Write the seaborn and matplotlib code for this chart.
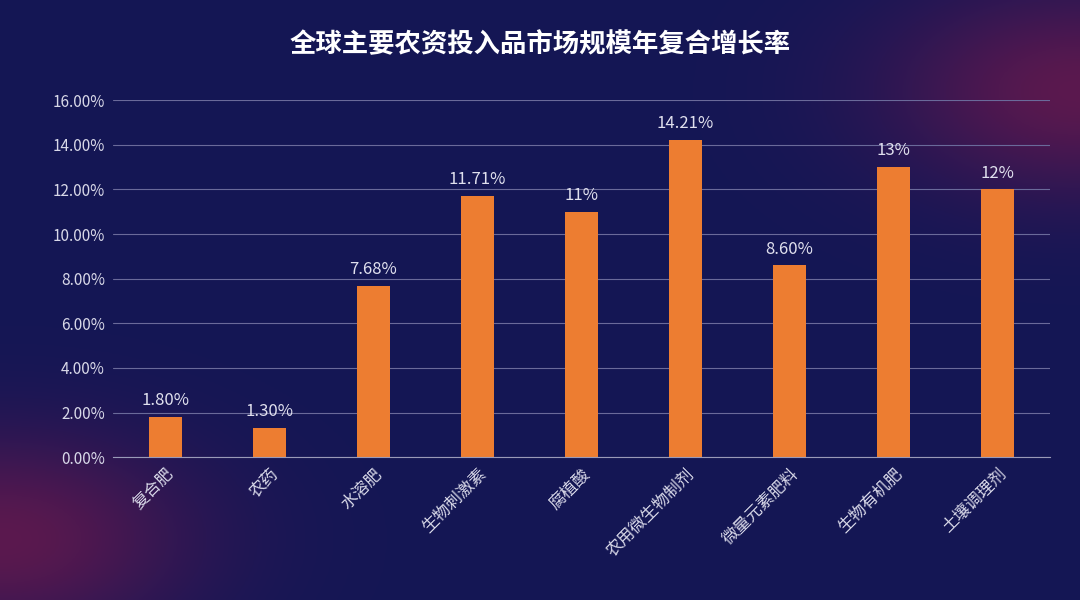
import matplotlib
matplotlib.use("Agg")
import matplotlib.pyplot as plt
import seaborn as sns
import numpy as np
import pandas as pd

categories = ["复合肥", "农药", "水溶肥", "生物刺激素", "腐植酸", "农用微生物制剂", "微量元素肥料", "生物有机肥", "土壤调理剂"]
values = [1.80, 1.30, 7.68, 11.71, 11.0, 14.21, 8.60, 13.0, 12.0]
value_labels = ["1.80%", "1.30%", "7.68%", "11.71%", "11%", "14.21%", "8.60%", "13%", "12%"]
yticks = [0, 2, 4, 6, 8, 10, 12, 14, 16]
title = "全球主要农资投入品市场规模年复合增长率"

sns.set_style("white")
plt.rcParams['font.family'] = ['Noto Sans CJK SC', 'DejaVu Sans']

fig = plt.figure(figsize=(10.8, 6), dpi=100)
bg = fig.add_axes([0, 0, 1, 1], zorder=-10)
grad = np.linspace(0, 1, 256)
X, Y = np.meshgrid(grad, grad)
img = np.zeros((256, 256, 3))
base = np.array([0x14, 0x16, 0x55]) / 255
red = np.array([0x8a, 0x1a, 0x4a]) / 255
w = np.clip(np.maximum(np.exp(-((X - 0.0) ** 2 + (Y - 0.1) ** 2) / 0.03),
                       np.exp(-((X - 1.0) ** 2 + (Y - 0.85) ** 2) / 0.03)), 0, 1) * 0.6
for c in range(3):
    img[..., c] = base[c] * (1 - w) + red[c] * w
bg.imshow(img, aspect='auto', extent=[0, 1, 0, 1], origin='lower')
bg.axis('off')

ax = fig.add_axes([0.105, 0.238, 0.867, 0.595])
ax.set_facecolor('none')
df = pd.DataFrame({"cat": categories, "val": values})
sns.barplot(data=df, x="cat", y="val", color="#ED7D31", width=0.32, ax=ax,
            saturation=1, edgecolor="none", linewidth=0)
ax.set_ylim(0, 16)
ax.set_yticks(yticks)
ax.set_yticklabels([f"{v:.2f}%" for v in yticks], color="#d8d8e8", fontsize=11)
ax.set_xticks(range(len(categories)))
ax.set_xticklabels(categories, rotation=45, ha='right', rotation_mode='anchor', color="#d8d8e8", fontsize=12)
ax.set_xlabel(""); ax.set_ylabel("")
ax.grid(axis='y', color="#6a6a9a", linewidth=0.8)
ax.set_axisbelow(True)
for s in ["top", "right", "left"]:
    ax.spines[s].set_visible(False)
ax.spines["bottom"].set_color("#9a9ab8")
ax.tick_params(axis='both', length=0, pad=6)
for i, (v, lab) in enumerate(zip(values, value_labels)):
    ax.text(i, v + 0.35, lab, ha='center', va='bottom', color="#e0e0ee", fontsize=12)
fig.text(0.5, 0.925, title, ha='center', va='center', color='white', fontsize=19, fontweight='bold')
fig.savefig("out.png", dpi=100)
